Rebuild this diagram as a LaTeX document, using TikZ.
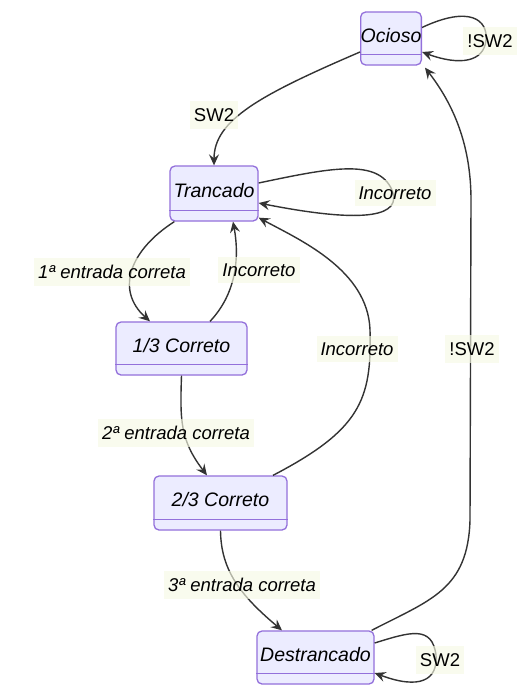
\documentclass[tikz,border=0pt]{standalone}
\usepackage{fontspec}
\setmainfont{Liberation Sans}
\usetikzlibrary{arrows.meta}
\definecolor{stfill}{HTML}{ECECFF}
\definecolor{stline}{HTML}{9370DB}
\definecolor{edgec}{HTML}{333333}
\definecolor{lblbg}{HTML}{F7FAE5}
\begin{document}
\begin{tikzpicture}[x=1pt,y=-1pt,
 state/.style={draw=stline, fill=stfill, line width=1.3pt, rounded corners=5pt, inner sep=0pt,
   text height=14pt, text depth=7pt, font=\fontsize{19.5}{23}\selectfont\itshape},
 divider/.style={draw=stline, line width=1.3pt},
 tr/.style={draw=edgec, line width=1.4pt, -{Stealth[length=11pt,width=10pt,inset=4pt]}},
 lbl/.style={fill=lblbg, fill opacity=0.65, text opacity=1, inner xsep=4pt, inner ysep=7pt,
   font=\fontsize{18.5}{22}\selectfont\itshape},
 lblu/.style={lbl, font=\fontsize{18.5}{22}\selectfont}]
\fill[white] (0,0) rectangle (524,696);
\useasboundingbox (0,0) rectangle (524,696);

% states
\node[state, minimum width=56pt, minimum height=53pt] (ocioso) at (391,38.5) {Ocioso};
\node[state, minimum width=88pt, minimum height=55pt] (trancado) at (214,193.5) {Trancado};
\node[state, minimum width=131pt, minimum height=53pt] (c13) at (181.5,348.5) {1/3 Correto};
\node[state, minimum width=133pt, minimum height=54pt] (c23) at (220.5,503) {2/3 Correto};
\node[state, minimum width=117pt, minimum height=53pt] (dest) at (315.5,657.5) {Destrancado};
\foreach \n in {ocioso,trancado,c13,c23,dest}
  \draw[divider] ([yshift=11pt]\n.south west) -- ([yshift=11pt]\n.south east);

% transitions
\draw[tr] ([yshift=11pt]ocioso.east) .. controls (470,5) and (488,20) .. (486,40)
   .. controls (484,62) and (460,66) .. ([yshift=-13.5pt]ocioso.east);
\draw[tr] ([yshift=-13.5pt]ocioso.west) .. controls (260,95) and (214,120) .. (trancado.north);
\draw[tr] ([yshift=10.5pt]trancado.east) .. controls (330,168) and (378,158) .. (392,190)
   .. controls (402,215) and (370,225) .. ([yshift=-9.5pt]trancado.east);
\draw[tr] ([xshift=5pt]trancado.south west) .. controls (130,250) and (115,290) .. ([xshift=-31.5pt]c13.north);
\draw[tr] ([xshift=28.5pt]c13.north) .. controls (235,295) and (240,260) .. ([xshift=19pt]trancado.south);
\draw[tr] (c13.south) .. controls (180,420) and (180,440) .. ([xshift=-13.5pt]c23.north);
\draw[tr] ([xshift=52.5pt]c23.north) .. controls (360,430) and (372,400) .. (370,330)
   .. controls (368,270) and (300,240) .. ([yshift=4pt]trancado.south east);
\draw[tr] (c23.south) .. controls (221,570) and (240,595) .. ([xshift=-33.5pt]dest.north);
\draw[tr] ([yshift=14.5pt]dest.east) .. controls (410,632) and (432,625) .. (436,655)
   .. controls (438,680) and (420,690) .. ([yshift=-15.5pt]dest.east);
\draw[tr] ([xshift=-3pt]dest.north east) .. controls (430,600) and (468,590) .. (470,520)
   -- (471,200) .. controls (471,140) and (450,100) .. ([xshift=3pt,yshift=-2pt]ocioso.south east);

% labels
\node[lblu] (l1) at (490,41) {!SW2};
\node[lblu] (l2) at (214,115) {SW2};
\node[lbl] (l3) at (395,193) {Incorreto};
\node[lbl] (l4) at (112,272) {1ª entrada correta};
\node[lbl] (l5) at (259,270) {Incorreto};
\node[lbl] (l6) at (176,433) {2ª entrada correta};
\node[lbl] (l7) at (357,349) {Incorreto};
\node[lblu] (l8) at (472,349) {!SW2};
\node[lbl] (l9) at (242,585) {3ª entrada correta};
\node[lblu] (l10) at (440,660) {SW2};
\end{tikzpicture}
\end{document}
